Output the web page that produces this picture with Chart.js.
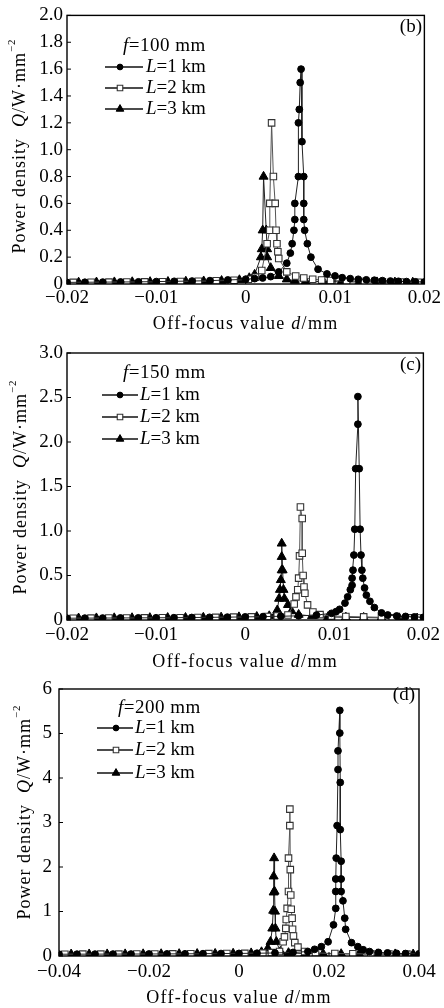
<!DOCTYPE html>
<html lang="en">
<head>
<meta charset="UTF-8">
<title>Power density vs off-focus value</title>
<script src="https://cdn.jsdelivr.net/npm/chart.js"></script>
<style>
  html, body { margin: 0; padding: 0; background: #fff; }
  body { width: 444px; height: 1008px; position: relative; overflow: hidden; }
  .panel { position: absolute; left: 0; width: 444px; }
</style>
</head>
<body>
<div class="panel" style="top:0;height:335px"><canvas id="chartB"></canvas></div>
<div class="panel" style="top:335px;height:335px"><canvas id="chartC"></canvas></div>
<div class="panel" style="top:670px;height:338px"><canvas id="chartD"></canvas></div>

<script>
// ---- data ----
const seriesLabels = ['L=1 km', 'L=2 km', 'L=3 km'];

// (b) f = 100 mm
const ticksB_d = [-0.02, -0.01, 0, 0.01, 0.02];
const ticksB_Q = [0, 0.2, 0.4, 0.6, 0.8, 1.0, 1.2, 1.4, 1.6, 1.8, 2.0];
const dB_L1 = [-0.02,-0.018,-0.016,-0.014,-0.012,-0.01,-0.008,-0.006,-0.004,-0.002,0,0.001,0.0019,0.0028,0.0037,0.0046,0.005,0.0052,0.0054,0.0055,0.0055,0.0059,0.0059,0.006,0.0061,0.0062,0.0063,0.0065,0.0065,0.0065,0.0066,0.0069,0.0073,0.0081,0.0091,0.01,0.0108,0.0117,0.0126,0.0135,0.0144,0.0153,0.0162,0.0171,0.018,0.019,0.02];
const QB_L1 = [0.012,0.013,0.014,0.015,0.016,0.018,0.02,0.022,0.025,0.03,0.035,0.04,0.045,0.055,0.09,0.155,0.23,0.3,0.4,0.48,0.6,0.8,1.2,1.3,1.5,1.6,1.06,0.8,0.6,0.48,0.4,0.3,0.2,0.11,0.075,0.06,0.047,0.04,0.035,0.031,0.028,0.025,0.022,0.02,0.018,0.016,0.015];
const dB_L2 = [-0.0193,-0.0173,-0.0153,-0.0133,-0.0113,-0.0093,-0.0073,-0.0053,-0.0033,-0.0013,0.0003,0.0011,0.0018,0.0024,0.0027,0.0027,0.0029,0.0031,0.0033,0.0034,0.0035,0.0036,0.0037,0.0046,0.0056,0.0065,0.0075,0.0085,0.0095,0.0113,0.0133,0.0153,0.0173,0.0193];
const QB_L2 = [0.012,0.013,0.014,0.015,0.016,0.017,0.019,0.021,0.024,0.028,0.035,0.05,0.1,0.3,0.4,0.6,1.2,0.8,0.6,0.4,0.3,0.24,0.19,0.09,0.06,0.045,0.035,0.03,0.026,0.022,0.019,0.017,0.015,0.013];
const dB_L3 = [-0.0187,-0.0167,-0.0147,-0.0127,-0.0107,-0.0087,-0.0067,-0.0047,-0.0027,-0.0007,0.0004,0.001,0.0017,0.0018,0.0019,0.002,0.0023,0.0024,0.0024,0.0028,0.0037,0.0046,0.0055,0.0067,0.0087,0.0107,0.0127,0.0147,0.0167,0.0187];
const QB_L3 = [0.012,0.013,0.014,0.015,0.016,0.017,0.019,0.021,0.024,0.03,0.045,0.07,0.2,0.26,0.4,0.8,0.4,0.26,0.2,0.12,0.06,0.035,0.025,0.02,0.018,0.016,0.015,0.014,0.013,0.012];

// (c) f = 150 mm
const ticksC_d = [-0.02, -0.01, 0, 0.01, 0.02];
const ticksC_Q = [0, 0.5, 1.0, 1.5, 2.0, 2.5, 3.0];
const dC_L1 = [-0.02,-0.018,-0.016,-0.014,-0.012,-0.01,-0.008,-0.006,-0.004,-0.002,0,0.002,0.004,0.006,0.008,0.0097,0.0102,0.0106,0.0112,0.0115,0.0118,0.012,0.012,0.0121,0.0122,0.0123,0.0124,0.01265,0.01265,0.0128,0.0129,0.013,0.0131,0.0132,0.0134,0.0136,0.014,0.0145,0.0153,0.016,0.017,0.018,0.019,0.02];
const QC_L1 = [0.02,0.021,0.022,0.023,0.024,0.025,0.026,0.028,0.03,0.032,0.035,0.038,0.042,0.047,0.055,0.075,0.094,0.12,0.19,0.26,0.34,0.39,0.47,0.56,0.73,1.02,1.7,2.2,2.51,1.7,1.02,0.73,0.56,0.47,0.36,0.28,0.21,0.14,0.08,0.056,0.045,0.04,0.035,0.03];
const dC_L2 = [-0.0193,-0.0173,-0.0153,-0.0133,-0.0113,-0.0093,-0.0073,-0.0053,-0.0033,-0.0013,0.0007,0.0025,0.0036,0.0048,0.0055,0.0057,0.0059,0.006,0.0061,0.0062,0.0064,0.0064,0.0065,0.0066,0.0067,0.007,0.0076,0.0084,0.0097,0.0113,0.0133,0.0153,0.0165,0.0183,0.0197];
const QC_L2 = [0.02,0.021,0.022,0.023,0.024,0.025,0.026,0.028,0.03,0.032,0.035,0.04,0.045,0.056,0.18,0.26,0.34,0.47,0.72,1.27,1.14,0.75,0.5,0.37,0.3,0.17,0.09,0.06,0.045,0.04,0.035,0.03,0.025,0.024,0.022];
const dC_L3 = [-0.0187,-0.0167,-0.0147,-0.0127,-0.0107,-0.0087,-0.0067,-0.0047,-0.0027,-0.0007,0.0013,0.0027,0.0034,0.0036,0.0038,0.0039,0.004,0.0041,0.0041,0.0041,0.0042,0.0043,0.0044,0.0048,0.0052,0.006,0.0075,0.0093,0.0113,0.0133,0.0153,0.0173,0.0193];
const QC_L3 = [0.02,0.021,0.022,0.023,0.024,0.025,0.026,0.028,0.03,0.033,0.037,0.045,0.06,0.11,0.24,0.34,0.45,0.56,0.71,0.86,0.56,0.34,0.24,0.17,0.1,0.06,0.045,0.035,0.03,0.027,0.024,0.022,0.02];

// (d) f = 200 mm
const ticksD_d = [-0.04, -0.02, 0, 0.02, 0.04];
const ticksD_Q = [0, 1, 2, 3, 4, 5, 6];
const dD_L1 = [-0.04,-0.036,-0.032,-0.028,-0.024,-0.02,-0.016,-0.012,-0.008,-0.004,0,0.004,0.008,0.012,0.0153,0.0168,0.0183,0.0198,0.021,0.0215,0.0215,0.0215,0.0216,0.0218,0.022,0.022,0.0224,0.0224,0.0225,0.0225,0.0227,0.0227,0.0227,0.0231,0.0235,0.0237,0.025,0.0264,0.0276,0.029,0.031,0.033,0.035,0.037,0.04];
const QD_L1 = [0.04,0.041,0.042,0.043,0.044,0.045,0.047,0.049,0.052,0.055,0.058,0.062,0.068,0.08,0.1,0.15,0.21,0.32,0.7,1.07,1.45,1.73,2.2,2.93,4.19,4.61,5.52,5.01,3.9,2.84,2.13,1.73,1.45,1.24,0.85,0.6,0.3,0.21,0.14,0.1,0.08,0.07,0.06,0.055,0.05];
const dD_L2 = [-0.0387,-0.0347,-0.0307,-0.0267,-0.0227,-0.0187,-0.0147,-0.0107,-0.0067,-0.0027,0.0013,0.0053,0.0072,0.009,0.0098,0.0101,0.0104,0.0105,0.0107,0.011,0.011,0.0113,0.0113,0.0114,0.0115,0.0116,0.0118,0.0119,0.0121,0.0124,0.0131,0.0146,0.017,0.0213,0.0253,0.0293,0.0333,0.0373];
const QD_L2 = [0.04,0.041,0.042,0.043,0.044,0.046,0.048,0.05,0.053,0.056,0.06,0.065,0.075,0.1,0.32,0.43,0.62,0.82,1.07,1.45,2.2,2.93,3.3,1.94,1.37,1.05,0.85,0.6,0.45,0.3,0.2,0.1,0.07,0.055,0.05,0.047,0.045,0.043];
const dD_L3 = [-0.0373,-0.0333,-0.0293,-0.0253,-0.0213,-0.0173,-0.0133,-0.0093,-0.0053,-0.0013,0.0027,0.005,0.0064,0.007,0.0074,0.0076,0.0077,0.0077,0.0078,0.0079,0.008,0.0081,0.0083,0.0092,0.011,0.0147,0.0187,0.0227,0.0267,0.0307,0.0347,0.0387];
const QD_L3 = [0.04,0.041,0.042,0.043,0.044,0.046,0.048,0.05,0.053,0.057,0.065,0.09,0.17,0.32,0.62,1.02,1.43,1.79,2.2,1.45,1.0,0.62,0.32,0.1,0.07,0.055,0.05,0.047,0.045,0.043,0.042,0.04];

// ---- styles ----
const SERIF = "'Liberation Serif', 'Times New Roman', serif";
Chart.defaults.font.family = SERIF;
Chart.defaults.color = '#000';

const markerStyles = [
  { pointStyle: 'circle',   radius: 3.4, fill: '#000', edge: '#000', bw: 1,   line: '#222' },
  { pointStyle: 'rect',     radius: 4.6, fill: '#fff', edge: '#333', bw: 1.1, line: '#555' },
  { pointStyle: 'triangle', radius: 5.2, fill: '#000', edge: '#000', bw: 1,   line: '#222' }
];

function fontOf(size, italic) {
  return (italic ? 'italic ' : '') + size + 'px ' + SERIF;
}

// mixed italic / superscript text on the canvas
function richText(ctx, parts, x, y, size, align) {
  let w = 0;
  parts.forEach(p => {
    ctx.font = fontOf(p.sup ? size * 0.6 : size, p.i);
    w += ctx.measureText(p.t).width;
  });
  let cx = align === 'center' ? x - w / 2 : (align === 'right' ? x - w : x);
  parts.forEach(p => {
    ctx.font = fontOf(p.sup ? size * 0.6 : size, p.i);
    ctx.fillText(p.t, cx, p.sup ? y - size * 0.45 : y);
    cx += ctx.measureText(p.t).width;
  });
}

const decoPlugin = {
  id: 'deco',
  afterDraw(chart, args, o) {
    const { ctx, chartArea: a } = chart;
    const sx = chart.scales.x, sy = chart.scales.y;
    ctx.save();

    // frame + inward ticks
    ctx.strokeStyle = '#000';
    ctx.lineWidth = 1.4;
    ctx.strokeRect(a.left, a.top, a.right - a.left, a.bottom - a.top);
    ctx.lineWidth = 1;
    ctx.beginPath();
    sy.ticks.forEach(t => {
      const py = sy.getPixelForValue(t.value);
      ctx.moveTo(a.left, py); ctx.lineTo(a.left + 4, py);
    });
    sx.ticks.forEach(t => {
      const px = sx.getPixelForValue(t.value);
      ctx.moveTo(px, a.bottom); ctx.lineTo(px, a.bottom - 4);
    });
    ctx.stroke();

    ctx.fillStyle = '#000';
    ctx.textBaseline = 'middle';
    ctx.textAlign = 'left';

    // axis titles
    ctx.letterSpacing = '1.3px';
    richText(ctx, [{ t: 'Off-focus value ' }, { t: 'd', i: true }, { t: '/mm' }],
      (a.left + a.right) / 2, o.xTitleY, 18, 'center');
    ctx.letterSpacing = '1px';
    ctx.save();
    ctx.translate(o.yTitleX, o.yTitleY);
    ctx.rotate(-Math.PI / 2);
    richText(ctx, [{ t: 'Power density  ' }, { t: 'Q', i: true }, { t: '/W·mm' }, { t: '−2', sup: true }],
      0, 0, 18, 'center');
    ctx.restore();
    ctx.letterSpacing = '0px';

    // panel tag and focal length
    richText(ctx, [{ t: o.tag }], o.tagX, o.tagY, 19, 'right');
    ctx.letterSpacing = '0.5px';
    richText(ctx, [{ t: 'f', i: true }, { t: '=' + o.focal }], o.fX, o.fY, 19, 'left');
    ctx.letterSpacing = '0px';

    // legend: line through marker, then label with italic L
    chart.data.datasets.forEach((ds, i) => {
      const y = o.rowY[i];
      ctx.strokeStyle = '#111';
      ctx.lineWidth = 1.3;
      ctx.beginPath();
      ctx.moveTo(o.lineX1, y); ctx.lineTo(o.lineX2, y);
      ctx.stroke();
      ctx.fillStyle = ds.pointBackgroundColor;
      ctx.strokeStyle = ds.pointBorderColor;
      ctx.lineWidth = ds.pointBorderWidth;
      Chart.helpers.drawPoint(ctx, {
        pointStyle: ds.pointStyle, radius: ds.pointRadius * 0.85, rotation: 0, borderWidth: ds.pointBorderWidth
      }, o.markX, y);
      ctx.fillStyle = '#000';
      richText(ctx, [{ t: ds.label.charAt(0), i: true }, { t: ds.label.slice(1) }], o.textX, y, 19, 'left');
    });

    ctx.restore();
  }
};

function fmtD(v) {
  if (Math.abs(v) < 1e-9) return '0';
  return (v < 0 ? '−' : '') + Math.abs(v).toFixed(2);
}

function makePanel(id, p) {
  const datasets = p.series.map((s, i) => {
    const st = markerStyles[i];
    return {
      label: seriesLabels[i],
      data: s[0].map((d, k) => ({ x: d, y: s[1][k] })),
      showLine: true,
      borderColor: st.line,
      borderWidth: 1,
      pointStyle: st.pointStyle,
      pointRadius: st.radius,
      pointHoverRadius: st.radius,
      pointBackgroundColor: st.fill,
      pointBorderColor: st.edge,
      pointBorderWidth: st.bw
    };
  });

  return new Chart(document.getElementById(id), {
    type: 'scatter',
    data: { datasets: datasets },
    options: {
      responsive: true,
      maintainAspectRatio: false,
      animation: false,
      events: [],
      layout: { padding: { top: p.top, right: p.right, left: 0, bottom: 0 } },
      plugins: {
        legend: { display: false },
        tooltip: { enabled: false },
        deco: p.deco
      },
      scales: {
        x: {
          type: 'linear',
          min: p.xTicks[0],
          max: p.xTicks[p.xTicks.length - 1],
          grid: { display: false, drawTicks: false },
          border: { display: false },
          afterBuildTicks: s => { s.ticks = p.xTicks.map(v => ({ value: v })); },
          afterFit: s => { s.height = p.xAxisH; },
          ticks: { padding: p.xPad, maxRotation: 0, autoSkip: false, font: { size: 19 }, callback: fmtD }
        },
        y: {
          type: 'linear',
          min: 0,
          max: p.yTicks[p.yTicks.length - 1],
          grid: { display: false, drawTicks: false },
          border: { display: false },
          afterBuildTicks: s => { s.ticks = p.yTicks.map(v => ({ value: v })); },
          afterFit: s => { s.width = p.left; },
          ticks: { padding: p.yPad, autoSkip: false, font: { size: 19 }, callback: p.yFmt }
        }
      }
    },
    plugins: [decoPlugin]
  });
}

makePanel('chartB', {
  series: [[dB_L1, QB_L1], [dB_L2, QB_L2], [dB_L3, QB_L3]],
  xTicks: ticksB_d, yTicks: ticksB_Q,
  yFmt: v => v === 0 ? '0' : v.toFixed(1),
  left: 67, top: 15, right: 18, xAxisH: 51, xPad: 3, yPad: 4,
  deco: {
    tag: '(b)', tagX: 422, tagY: 27, focal: '100 mm', fX: 123, fY: 46,
    rowY: [67, 88, 109], lineX1: 105, lineX2: 143, markX: 120, textX: 146,
    xTitleY: 324, yTitleX: 20, yTitleY: 146
  }
});

makePanel('chartC', {
  series: [[dC_L1, QC_L1], [dC_L2, QC_L2], [dC_L3, QC_L3]],
  xTicks: ticksC_d, yTicks: ticksC_Q,
  yFmt: v => v === 0 ? '0' : v.toFixed(1),
  left: 67, top: 18, right: 18, xAxisH: 50, xPad: 4, yPad: 4,
  deco: {
    tag: '(c)', tagX: 421, tagY: 30, focal: '150 mm', fX: 123, fY: 38,
    rowY: [60, 82, 104], lineX1: 102, lineX2: 138, markX: 120, textX: 140,
    xTitleY: 327, yTitleX: 21, yTitleY: 152
  }
});

makePanel('chartD', {
  series: [[dD_L1, QD_L1], [dD_L2, QD_L2], [dD_L3, QD_L3]],
  xTicks: ticksD_d, yTicks: ticksD_Q,
  yFmt: v => v === 0 ? '0' : v.toFixed(0),
  left: 59, top: 19, right: 25, xAxisH: 52, xPad: 5, yPad: 7,
  deco: {
    tag: '(d)', tagX: 415, tagY: 25, focal: '200 mm', fX: 118, fY: 38,
    rowY: [58, 80, 103], lineX1: 97, lineX2: 133, markX: 116, textX: 135,
    xTitleY: 328, yTitleX: 25, yTitleY: 142
  }
});
</script>
</body>
</html>
